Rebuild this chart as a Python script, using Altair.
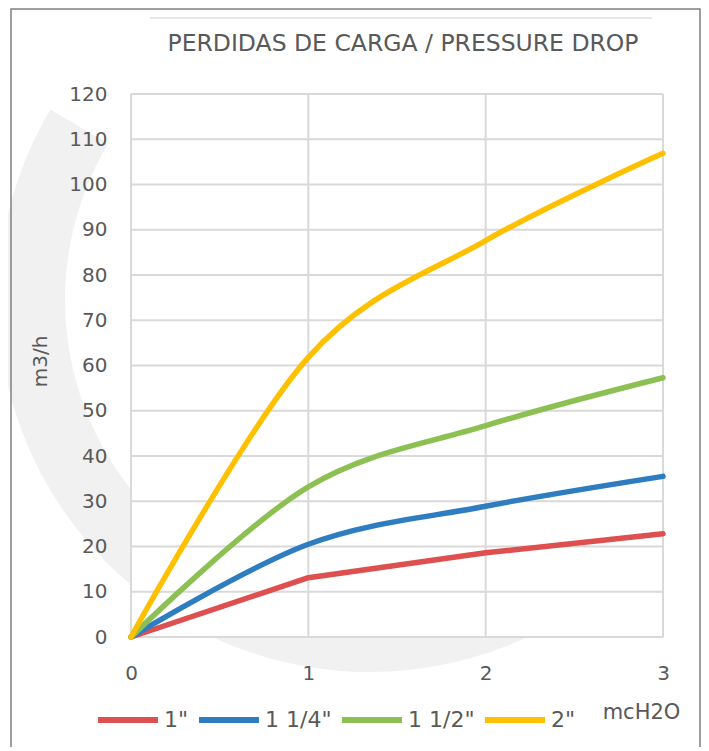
import altair as alt
import pandas as pd

# ---- data ----
pressure = [0, 1, 2, 3]                      # mcH2O
series_names = ['1"', '1 1/4"', '1 1/2"', '2"']
flow_1 = [0, 13.1, 18.6, 22.8]               # m3/h
flow_1_14 = [0, 20.5, 28.9, 35.5]
flow_1_12 = [0, 33.2, 46.7, 57.3]
flow_2 = [0, 61.8, 87.6, 106.9]
colors = ["#DE5050", "#2E7DC1", "#8DC052", "#FFC000"]
y_ticks = list(range(0, 121, 10))
x_ticks = [0, 1, 2, 3]

rows = []
for name, vals in zip(series_names, [flow_1, flow_1_14, flow_1_12, flow_2]):
    for x, v in zip(pressure, vals):
        rows.append({"p": x, "q": v, "s": name})
df = pd.DataFrame(rows)

FONT = "DejaVu Sans"
TXT = "#595959"
W, H = 532, 543

xscale = alt.Scale(domain=[0, 3], nice=False)
yscale = alt.Scale(domain=[0, 120], nice=False)
cscale = alt.Scale(domain=series_names, range=colors)

x_axis = alt.Axis(values=x_ticks, format="d", grid=False, domain=False, ticks=False,
                  labelFlush=False,
                  labelFontSize=20, labelColor=TXT, labelFont=FONT, labelPadding=26,
                  title="mcH2O", titleFont=FONT, titleFontSize=21, titleColor=TXT,
                  titleFontWeight="normal", titleX=510, titleY=75,
                  titleBaseline="middle", titleAlign="center", zindex=1)
y_axis = alt.Axis(values=y_ticks, format="d", grid=False, domain=False, ticks=False,
                  labelFlush=False,
                  labelFontSize=20, labelColor=TXT, labelFont=FONT, labelPadding=24,
                  title="m3/h", titleFont=FONT, titleFontSize=20, titleColor=TXT,
                  titleFontWeight="normal", titleX=-91, titleY=267,
                  titleBaseline="middle", titleAlign="center", zindex=1)

# background watermark swoosh (decoration)
wm = alt.Chart(pd.DataFrame({"d": [0]})).mark_arc(
    theta=2.53, theta2=5.25, radius=372, radius2=305, color="#f1f1f1"
).encode(x=alt.value(239), y=alt.value(206))

# white plot background
bg = alt.Chart(pd.DataFrame({"x0": [x_ticks[0]], "x1": [x_ticks[-1]],
                             "y0": [y_ticks[0]], "y1": [y_ticks[-1]]})).mark_rect(
    color="white").encode(
    x=alt.X("x0:Q", scale=xscale, axis=x_axis), x2="x1:Q",
    y=alt.Y("y0:Q", scale=yscale, axis=y_axis), y2="y1:Q")

gx = alt.Chart(pd.DataFrame({"v": x_ticks})).mark_rule(
    color="#D9D9D9", strokeWidth=2).encode(x=alt.X("v:Q", scale=xscale))
gy = alt.Chart(pd.DataFrame({"v": y_ticks})).mark_rule(
    color="#D9D9D9", strokeWidth=2).encode(y=alt.Y("v:Q", scale=yscale))

legend = alt.Legend(title=None, orient="none", legendX=-36, legendY=593,
                    direction="horizontal", symbolType="stroke", symbolSize=3600,
                    symbolStrokeWidth=6, labelFontSize=22, labelFont=FONT,
                    labelColor=TXT, labelOffset=3, columnPadding=-2)

enc = dict(
    x=alt.X("p:Q", scale=xscale),
    y=alt.Y("q:Q", scale=yscale),
    color=alt.Color("s:N", scale=cscale, legend=legend,
                    sort=series_names),
)
red = alt.Chart(df[df.s == series_names[0]]).mark_line(
    strokeWidth=5.5, strokeCap="round", strokeJoin="round", interpolate="linear"
).encode(**enc)
others = alt.Chart(df[df.s != series_names[0]]).mark_line(
    strokeWidth=5.5, strokeCap="round", strokeJoin="round", interpolate="cardinal"
).encode(**enc)

topline = alt.Chart(pd.DataFrame({"d": [0]})).mark_rule(
    color="#D0D0D0", strokeWidth=1).encode(
    x=alt.value(19), x2=alt.value(521), y=alt.value(-76))
border = alt.Chart(pd.DataFrame({"d": [0]})).mark_rect(
    fillOpacity=0, stroke="#808080", strokeWidth=1.5).encode(
    x=alt.value(-120), x2=alt.value(569), y=alt.value(-85), y2=alt.value(720))

chart = alt.layer(wm, bg, gx, gy, red, others, topline, border).properties(
    width=W, height=H,
    title=alt.Title("PERDIDAS DE CARGA / PRESSURE DROP", font=FONT, fontSize=23.5,
                    fontWeight="normal", color=TXT, anchor="middle", frame="group",
                    baseline="alphabetic", offset=-66, dx=6),
    autosize=alt.AutoSizeParams(type="none"),
    padding={"left": 123, "top": 86, "right": 38, "bottom": 110},
).configure_view(stroke=None).configure(background="white")

chart.save("out.html", embed_options={"renderer": "svg", "actions": False})
